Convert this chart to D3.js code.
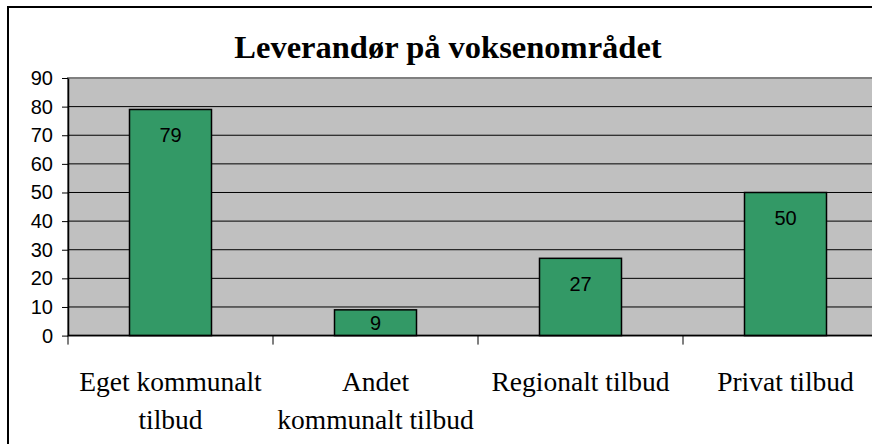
<!DOCTYPE html>
<html lang="da">
  <head>
    <meta charset="UTF-8" />
    <script src="https://d3js.org/d3.v7.min.js"></script>
    <title>Leverandør på voksenområdet</title>
    <style>
      body { margin: 0; background: #fff; }
      .cat { font-family: "Liberation Serif", "Times New Roman", serif; font-size: 27.5px; }
      .num { font-family: "Liberation Sans", Arial, sans-serif; font-size: 20px; }
    </style>
  </head>
  <body>
    <script>
      // ---- data ----
      const title = "Leverandør på voksenområdet";
      const categories = ["Eget kommunalt tilbud", "Andet kommunalt tilbud", "Regionalt tilbud", "Privat tilbud"];
      const catLines = [["Eget kommunalt", "tilbud"], ["Andet", "kommunalt tilbud"], ["Regionalt tilbud"], ["Privat tilbud"]];
      const values = [79, 9, 27, 50];
      const yTicks = [0, 10, 20, 30, 40, 50, 60, 70, 80, 90];

      // ---- layout ----
      const W = 872, H = 444;
      const plot = { left: 68, right: 888, top: 78, bottom: 335.6 };

      const svg = d3.select("body").append("svg")
        .attr("width", W).attr("height", H);

      // outer chart frame (runs off the right/bottom of the picture)
      svg.append("rect")
        .attr("x", 8).attr("y", 7)
        .attr("width", 900).attr("height", 460)
        .attr("fill", "#fff").attr("stroke", "#000").attr("stroke-width", 2);

      svg.append("text")
        .attr("x", 448).attr("y", 58)
        .attr("text-anchor", "middle")
        .style("font-family", "'Liberation Serif', 'Times New Roman', serif")
        .style("font-weight", "bold").style("font-size", "32.5px")
        .text(title);

      const x = d3.scaleBand()
        .domain(categories)
        .range([plot.left, plot.right])
        .paddingInner(0.6).paddingOuter(0.3);

      const y = d3.scaleLinear().domain([0, 90]).range([plot.bottom, plot.top]);

      // plot area
      svg.append("rect")
        .attr("x", plot.left).attr("y", plot.top)
        .attr("width", plot.right - plot.left).attr("height", plot.bottom - plot.top)
        .attr("fill", "#c0c0c0").attr("stroke", "#808080").attr("stroke-width", 2);

      // gridlines
      svg.append("g").selectAll("line")
        .data(yTicks.filter(d => d > 0 && d < 90))
        .join("line")
        .attr("x1", plot.left).attr("x2", plot.right)
        .attr("y1", d => y(d)).attr("y2", d => y(d))
        .attr("stroke", "#000").attr("stroke-width", 1);

      // y axis
      const yAxis = svg.append("g")
        .attr("transform", `translate(${plot.left},0)`)
        .call(d3.axisLeft(y).tickValues(yTicks).tickSize(6).tickPadding(9).tickSizeOuter(0));
      yAxis.select(".domain").attr("stroke", "#000").attr("stroke-width", 1.5);
      yAxis.selectAll(".tick line").attr("stroke", "#000");
      yAxis.selectAll("text").attr("class", "num").attr("fill", "#000")
        .style("font-family", "'Liberation Sans', Arial, sans-serif").style("font-size", "20px");

      // bars
      svg.append("g").selectAll("rect")
        .data(values)
        .join("rect")
        .attr("x", (d, i) => x(categories[i]))
        .attr("y", d => y(d))
        .attr("width", x.bandwidth())
        .attr("height", d => y(0) - y(d))
        .attr("fill", "#339966").attr("stroke", "#000").attr("stroke-width", 1.5);

      // value labels
      svg.append("g").selectAll("text")
        .data(values)
        .join("text")
        .attr("class", "num")
        .attr("x", (d, i) => x(categories[i]) + x.bandwidth() / 2)
        .attr("y", d => Math.min(y(d) + 33, (y(d) + y(0)) / 2 + 7))
        .attr("text-anchor", "middle")
        .text(d => d);

      // x axis
      const step = x.step();
      svg.append("line")
        .attr("x1", plot.left).attr("x2", plot.right)
        .attr("y1", plot.bottom).attr("y2", plot.bottom)
        .attr("stroke", "#000").attr("stroke-width", 1.5);
      svg.append("g").selectAll("line")
        .data(d3.range(categories.length + 1))
        .join("line")
        .attr("x1", i => plot.left + i * step).attr("x2", i => plot.left + i * step)
        .attr("y1", plot.bottom).attr("y2", plot.bottom + 9)
        .attr("stroke", "#000");

      // category labels
      const cat = svg.append("g").selectAll("text")
        .data(categories)
        .join("text")
        .attr("class", "cat")
        .attr("text-anchor", "middle")
        .attr("x", d => x(d) + x.bandwidth() / 2)
        .attr("y", 391);
      cat.selectAll("tspan")
        .data((d, i) => catLines[i])
        .join("tspan")
        .attr("x", function () { return this.parentNode.getAttribute("x"); })
        .attr("dy", (d, j) => j === 0 ? 0 : 38)
        .text(d => d);
    </script>
  </body>
</html>
